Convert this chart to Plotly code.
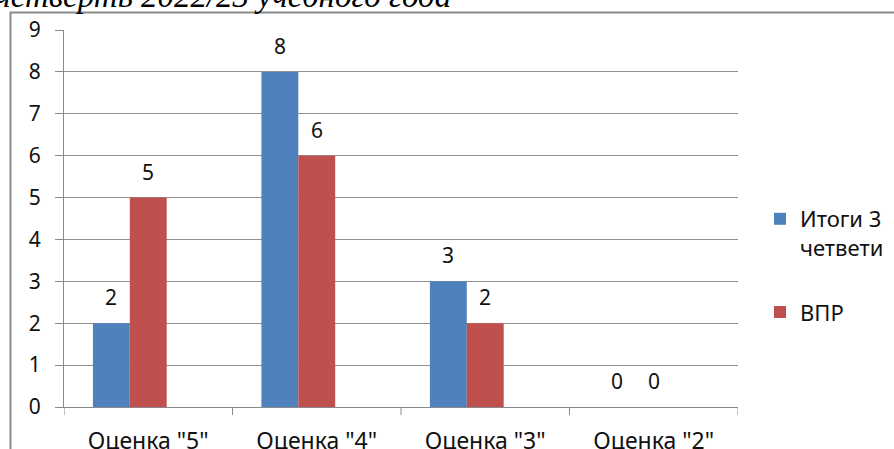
import plotly.graph_objects as go

categories = ['Оценка "5"', 'Оценка "4"', 'Оценка "3"', 'Оценка "2"']
itogi = [2, 8, 3, 0]
vpr = [5, 6, 2, 0]
series_names = ["Итоги 3<br>четвети", "ВПР"]
colors = ["#4F81BD", "#C0504D"]
y_ticks = list(range(0, 10))
title_text = "четверть 2022/23 учебного года"

W, H = 894, 449
L, R, T, B = 64, 156, 30, 42
pw, ph = W - L - R, H - T - B

gap = 0.343
w = (1 - gap) / 3  # third (empty) series slot as in the original
offsets = [-1.5 * w, -0.5 * w]

fig = go.Figure()
for name, vals, col, off in zip(series_names, [itogi, vpr], colors, offsets):
    fig.add_trace(go.Bar(
        x=list(range(len(categories))), y=vals, name=name,
        marker=dict(color=col, line=dict(width=0)),
        width=w, offset=off, legendgroup=name,
    ))
    for i, v in enumerate(vals):
        fig.add_annotation(
            x=i + off + w / 2, y=v, xref="x", yref="y",
            text=str(v), showarrow=False, yanchor="middle", yshift=26,
            font=dict(family="Noto Sans", size=21, color="#111111"),
        )

def px_x(p):
    return (p - L) / pw

def px_y(p):
    return (H - B - p) / ph

# chart frame
fig.add_shape(type="rect", xref="paper", yref="paper",
              x0=px_x(10.5), x1=px_x(W + 20), y0=px_y(12.5), y1=px_y(H + 20),
              line=dict(color="#8a8a8a", width=2), fillcolor="rgba(0,0,0,0)", layer="below")

# cut-off heading above the chart
fig.add_annotation(
    xref="paper", yref="paper", x=px_x(-7), y=px_y(16), xanchor="left", yanchor="bottom",
    text="<i>" + title_text + "</i>", showarrow=False,
    font=dict(family="Liberation Serif", size=33, color="#000000"),
)

fig.update_layout(
    width=W, height=H,
    margin=dict(l=L, r=R, t=T, b=B, pad=0, autoexpand=False),
    paper_bgcolor="white", plot_bgcolor="white",
    barmode="overlay",
    showlegend=True,
    legend=dict(
        x=px_x(760), y=px_y(198), xanchor="left", yanchor="top",
        font=dict(family="Noto Sans", size=22, color="#111111"),
        valign="top", tracegroupgap=33, itemwidth=30,
        bgcolor="rgba(0,0,0,0)",
    ),
    xaxis=dict(
        type="linear", range=[-0.5, 3.5],
        tickmode="array", tickvals=list(range(len(categories))), ticktext=categories,
        ticks="", showgrid=False, zeroline=False,
        showline=True, linecolor="#8a8a8a", linewidth=1,
        tickfont=dict(family="Noto Sans", size=23, color="#111111"),
        ticklabelstandoff=13,
    ),
    yaxis=dict(
        range=[0, 9], tickvals=y_ticks, ticks="outside", ticklen=8, tickcolor="#8a8a8a",
        showgrid=True, gridcolor="#8f8f8f", gridwidth=1, zeroline=False,
        showline=True, linecolor="#8a8a8a", linewidth=1,
        tickfont=dict(family="Noto Sans", size=21, color="#111111"),
        ticklabelstandoff=10,
    ),
)

# category boundary ticks on the x axis
for b in [k - 0.5 for k in range(len(categories) + 1)]:
    fig.add_shape(type="line", xref="x", yref="paper", x0=b, x1=b,
                  y0=0, y1=-8 / ph, line=dict(color="#8a8a8a", width=1))

fig.write_html("out.html", config={"displayModeBar": False},
               post_script="document.body.style.margin='0';document.body.style.overflow='hidden';")
